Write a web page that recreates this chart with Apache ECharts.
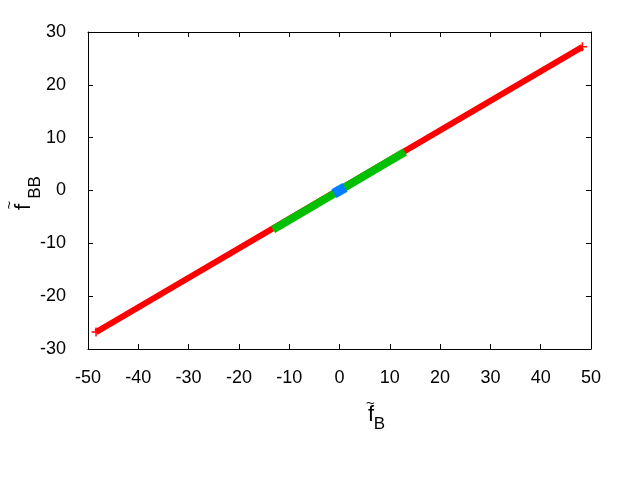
<!DOCTYPE html>
<html><head><meta charset="utf-8">
<script src="https://cdn.jsdelivr.net/npm/echarts@6/dist/echarts.min.js"></script>
<style>html,body{margin:0;padding:0;background:#fff}#c{width:640px;height:480px}</style>
</head><body><div id="c"></div>
<script>
var xTicks = [-50,-40,-30,-20,-10,0,10,20,30,40,50];
var yTicks = [-30,-20,-10,0,10,20,30];
var redLine = [[-48.4,-26.8],[48.3,27.2]];
var greenLine = [[-13.2,-7.4],[13.0,7.3]];
var blueLine = [[-1.1,-0.6],[1.1,0.6]];
var xName = {main:'f', sub:'B'};
var yName = {main:'f', sub:'BB'};
var font = 'Liberation Sans';
var chart = echarts.init(document.getElementById('c'));
var axCommon = {
  axisLine:{show:true,onZero:false,lineStyle:{color:'#000',width:1}},
  axisTick:{show:true,inside:true,length:5,lineStyle:{color:'#000'}},
  splitLine:{show:false}
};
var plus = 'path://M0,4.2h10v1.6h-10z M4.2,0h1.6v10h-1.6z';
var txt = function(o){ return {type:'text', x:o.x, y:o.y, rotation:o.rot||0, z:100,
  style:{text:o.t, fontSize:o.fs, fontFamily:font, fill:'#000', align:'center', verticalAlign:'middle'}}; };
chart.setOption({
  animation:false,
  grid:{left:88,right:49,top:32,bottom:131},
  xAxis:[
    Object.assign({type:'value',min:xTicks[0],max:xTicks[xTicks.length-1],interval:10,position:'bottom',
      axisLabel:{color:'#000',fontSize:18,fontFamily:font,margin:20}},axCommon),
    Object.assign({type:'value',min:xTicks[0],max:xTicks[xTicks.length-1],interval:10,position:'top',axisLabel:{show:false}},axCommon)
  ],
  yAxis:[
    Object.assign({type:'value',min:yTicks[0],max:yTicks[yTicks.length-1],interval:10,position:'left',
      axisLabel:{color:'#000',fontSize:18,fontFamily:font,margin:22}},axCommon),
    Object.assign({type:'value',min:yTicks[0],max:yTicks[yTicks.length-1],interval:10,position:'right',axisLabel:{show:false}},axCommon)
  ],
  graphic:[
    txt({t:xName.main,x:371,y:415,fs:22}),
    txt({t:'~',x:370.5,y:404,fs:15}),
    txt({t:xName.sub,x:379.5,y:424,fs:17}),
    txt({t:yName.main,x:24,y:207,fs:22,rot:Math.PI/2}),
    txt({t:'~',x:10,y:205,fs:15,rot:Math.PI/2}),
    txt({t:yName.sub,x:35,y:187.5,fs:17,rot:Math.PI/2})
  ],
  series:[
    {type:'line',data:redLine,symbol:plus,symbolSize:9,itemStyle:{color:'#ff0000'},lineStyle:{color:'#ff0000',width:6},z:2},
    {type:'line',data:greenLine,symbol:'none',lineStyle:{color:'#00c000',width:8},z:3},
    {type:'line',data:blueLine,symbol:'none',lineStyle:{color:'#0080ff',width:10},z:4}
  ]
});
</script></body></html>
